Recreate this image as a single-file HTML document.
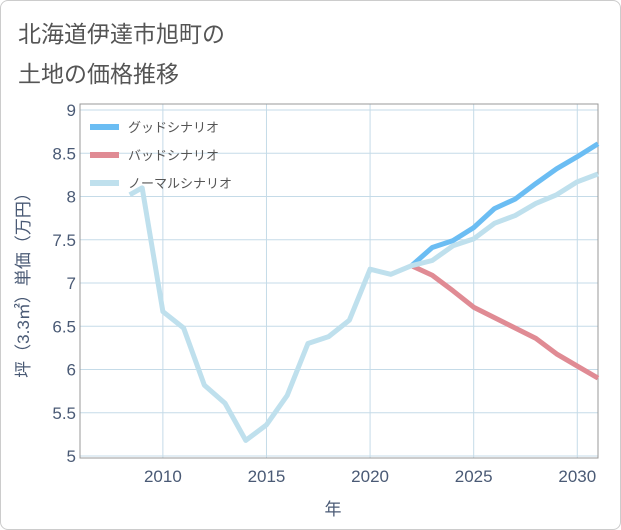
<!DOCTYPE html>
<html><head><meta charset="utf-8">
<style>
html,body{margin:0;padding:0;background:#fff;}
#wrap{position:relative;width:619px;height:528px;border:1px solid #ccc;border-radius:8px;overflow:hidden;font-family:"Liberation Sans","Noto Sans CJK JP",sans-serif;}
.title{position:absolute;left:17px;font-size:23px;color:#555;}
svg{position:absolute;left:0;top:0;}
</style></head><body>
<div id="wrap">
<div class="title" style="top:14px">北海道伊達市旭町の</div>
<div class="title" style="top:54px">土地の価格推移</div>
<svg id="chart" width="621" height="530"></svg>
</div>
<script>
const normalYears=[2008.4,2009,2010,2011,2012,2013,2014,2015,2016,2017,2018,2019,2020,2021,2022,2023,2024,2025,2026,2027,2028,2029,2030,2031];
const normalValues=[8.02,8.10,6.67,6.48,5.82,5.61,5.18,5.36,5.70,6.30,6.38,6.57,7.16,7.10,7.20,7.26,7.43,7.51,7.69,7.78,7.92,8.02,8.17,8.26];
const goodYears=[2022,2023,2024,2025,2026,2027,2028,2029,2030,2031];
const goodValues=[7.20,7.41,7.49,7.64,7.86,7.97,8.15,8.32,8.46,8.61];
const badYears=[2022,2023,2024,2025,2026,2027,2028,2029,2030,2031];
const badValues=[7.20,7.09,6.91,6.72,6.60,6.48,6.36,6.18,6.04,5.90];
const yTicks=[5,5.5,6,6.5,7,7.5,8,8.5,9];
const yTickLabels=["5","5.5","6","6.5","7","7.5","8","8.5","9"];
const xTicks=[2010,2015,2020,2025,2030];
const xTickLabels=["2010","2015","2020","2025","2030"];

const L=79,R=597,T=103,B=457;
const X=y=>L+(y-2006)*(R-L)/25;
const Y=v=>455-(v-5)*(455-109)/4;
const NS="http://www.w3.org/2000/svg";
const svg=document.getElementById('chart');
function mk(tag,attrs){const e=document.createElementNS(NS,tag);for(const k in attrs)e.setAttribute(k,attrs[k]);svg.appendChild(e);return e;}

yTicks.forEach((t,i)=>{
  const g=mk('line',{x1:L,x2:R,y1:Y(t),y2:Y(t),stroke:'#c5dbe8','stroke-width':1});
  
  
  const tx=mk('text',{x:75,y:Y(t)+6,'text-anchor':'end','font-size':17,fill:'#4a5a75'});
  tx.textContent=yTickLabels[i];
  
  
});
xTicks.forEach((t,i)=>{
  const g=mk('line',{x1:X(t),x2:X(t),y1:T,y2:B,stroke:'#c5dbe8','stroke-width':1});
  
  
  const tx=mk('text',{x:X(t),y:481,'text-anchor':'middle','font-size':17,fill:'#4a5a75'});
  tx.textContent=xTickLabels[i];
  
  
});
const frame=mk('rect',{x:L,y:T,width:R-L,height:B-T,fill:'none',stroke:'#999','stroke-width':1});



function series(xs,vs,color,name){
  const p=mk('polyline',{points:xs.map((x,i)=>X(x)+','+Y(vs[i])).join(' '),fill:'none',stroke:color,'stroke-width':5,'stroke-linejoin':'round'});
  
  
}
series(badYears,badValues,'#e08b94','bad-scenario-line');
series(goodYears,goodValues,'#6bbdf3','good-scenario-line');
series(normalYears,normalValues,'#bfe0ed','normal-scenario-line');

const legend=[['グッドシナリオ','#6bbdf3'],['バッドシナリオ','#e08b94'],['ノーマルシナリオ','#bfe0ed']];
legend.forEach((l,i)=>{
  const y=126+i*28;
  const s=mk('rect',{x:89,y:y-3,width:29,height:6,fill:l[1]});
  
  
  const t=mk('text',{x:127,y:y+5,'font-size':13,fill:'#555'});
  t.textContent=l[0];
  
  
});
const yt=mk('text',{x:0,y:0,'font-size':17,fill:'#4a5a75','text-anchor':'middle',transform:'translate(28,280) rotate(-90)'});
yt.textContent='坪（3.3㎡）単価（万円）';


const xt=mk('text',{x:332,y:514,'font-size':17,fill:'#4a5a75','text-anchor':'middle'});
xt.textContent='年';


</script>
</body></html>
